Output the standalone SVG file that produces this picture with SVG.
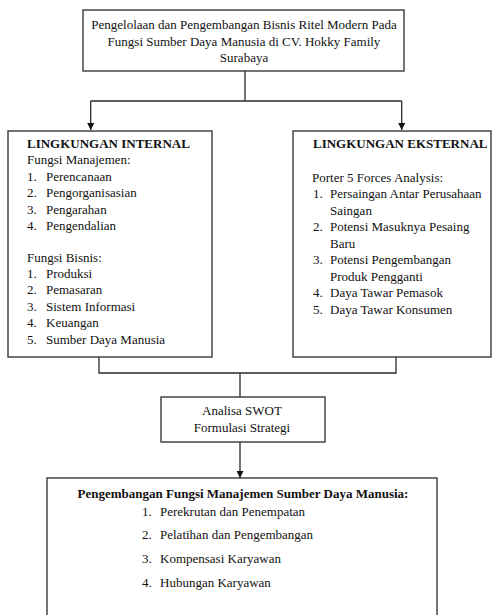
<svg xmlns="http://www.w3.org/2000/svg" width="492" height="615" viewBox="0 0 492 615">
<style>
.box{fill:#fff;stroke:#3a3a3a;stroke-width:1.4}
.ln{fill:none;stroke:#2a2a2a;stroke-width:1.3}
text{font-family:"Liberation Serif","Times New Roman",serif;font-size:13px;fill:#111}
.b{font-weight:bold}
.c{text-anchor:middle}
</style>
<defs>
<marker id="ah" viewBox="0 0 8 8" refX="8" refY="4" markerWidth="7" markerHeight="7" markerUnits="userSpaceOnUse" orient="auto">
<path d="M0,0 L8,4 L0,8 Z" fill="#111"/>
</marker>
</defs>
<g id="connectors">
<path class="ln" d="M245,71 V101 M90.7,101 H401.7"/>
<path class="ln" d="M90.7,101 V130" marker-end="url(#ah)"/>
<path class="ln" d="M401.7,101 V130" marker-end="url(#ah)"/>
<path class="ln" d="M99,357 V373 H396 V357 M240,373 V397"/>
<path class="ln" d="M240,442 V478" marker-end="url(#ah)"/>
</g>
<g id="top">
<rect class="box" x="83" y="10" width="321" height="61"/>
<text class="c" x="244" y="29">Pengelolaan dan Pengembangan Bisnis Ritel Modern Pada</text>
<text class="c" x="244" y="45.5">Fungsi Sumber Daya Manusia di CV. Hokky Family</text>
<text class="c" x="244" y="62">Surabaya</text>
</g>
<g id="internal">
<rect class="box" x="8" y="131" width="204" height="226"/>
<text class="b" x="27" y="148">LINGKUNGAN INTERNAL</text>
<text x="27" y="164">Fungsi Manajemen:</text>
<text x="27" y="181">1.</text><text x="46" y="181">Perencanaan</text>
<text x="27" y="197">2.</text><text x="46" y="197">Pengorganisasian</text>
<text x="27" y="214">3.</text><text x="46" y="214">Pengarahan</text>
<text x="27" y="230">4.</text><text x="46" y="230">Pengendalian</text>
<text x="27" y="262">Fungsi Bisnis:</text>
<text x="27" y="278">1.</text><text x="46" y="278">Produksi</text>
<text x="27" y="294">2.</text><text x="46" y="294">Pemasaran</text>
<text x="27" y="311">3.</text><text x="46" y="311">Sistem Informasi</text>
<text x="27" y="327">4.</text><text x="46" y="327">Keuangan</text>
<text x="27" y="344">5.</text><text x="46" y="344">Sumber Daya Manusia</text>
</g>
<g id="external">
<rect class="box" x="293" y="131" width="198" height="226"/>
<text class="b" x="313" y="148">LINGKUNGAN EKSTERNAL</text>
<text x="312" y="182">Porter 5 Forces Analysis:</text>
<text x="313" y="198">1.</text><text x="330" y="198">Persaingan Antar Perusahaan</text>
<text x="330" y="215">Saingan</text>
<text x="313" y="231">2.</text><text x="330" y="231">Potensi Masuknya Pesaing</text>
<text x="330" y="248">Baru</text>
<text x="313" y="264">3.</text><text x="330" y="264">Potensi Pengembangan</text>
<text x="330" y="281">Produk Pengganti</text>
<text x="313" y="297">4.</text><text x="330" y="297">Daya Tawar Pemasok</text>
<text x="313" y="314">5.</text><text x="330" y="314">Daya Tawar Konsumen</text>
</g>
<g id="swot">
<rect class="box" x="161" y="397" width="164" height="45"/>
<text class="c" x="242" y="415">Analisa SWOT</text>
<text class="c" x="242" y="432">Formulasi Strategi</text>
</g>
<g id="msdm">
<rect class="box" x="47" y="478" width="390" height="150"/>
<text class="b c" x="243" y="498">Pengembangan Fungsi Manajemen Sumber Daya Manusia:</text>
<text x="142" y="516">1.</text><text x="160" y="516">Perekrutan dan Penempatan</text>
<text x="142" y="539">2.</text><text x="160" y="539">Pelatihan dan Pengembangan</text>
<text x="142" y="563">3.</text><text x="160" y="563">Kompensasi Karyawan</text>
<text x="142" y="587">4.</text><text x="160" y="587">Hubungan Karyawan</text>
</g>
</svg>
